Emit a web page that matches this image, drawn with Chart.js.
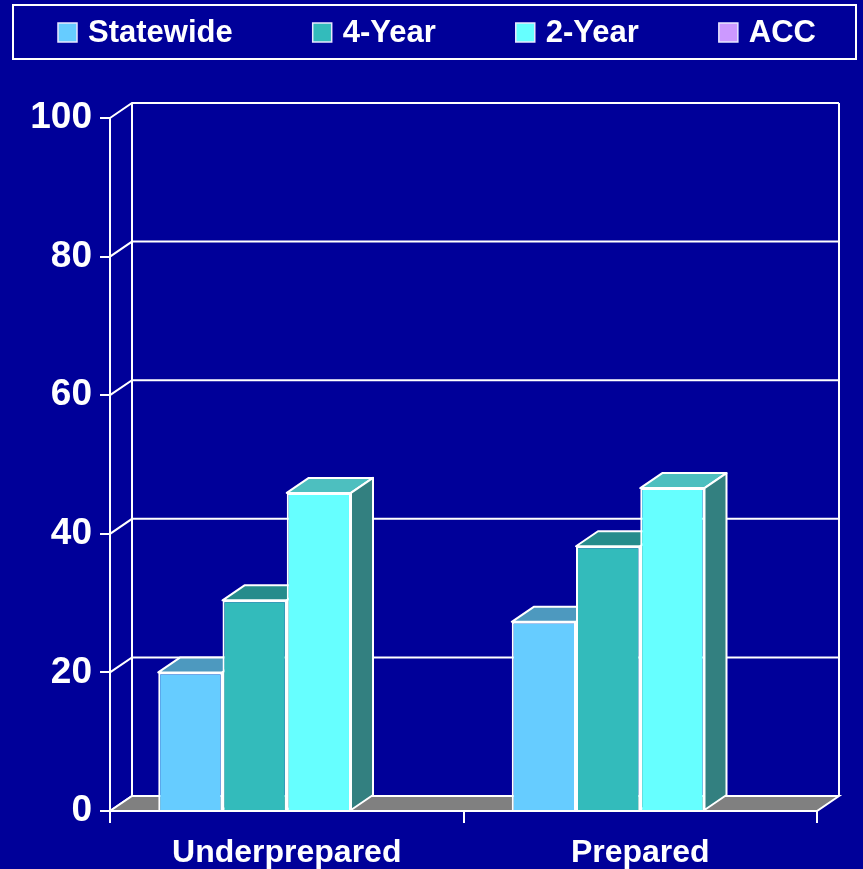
<!DOCTYPE html>
<html>
<head>
<meta charset="utf-8">
<title>Underprepared / Prepared</title>
<script src="https://cdn.jsdelivr.net/npm/chart.js@4.4.1/dist/chart.umd.min.js"></script>
<style>
  html, body { margin: 0; padding: 0; background: #000099; }
  .chart-box { width: 863px; height: 869px; position: relative; }
</style>
</head>
<body>
<div class="chart-box"><canvas id="chart"></canvas></div>
<script>
/* Data */

const categories = ['Underprepared', 'Prepared']
const seriesNames = ['Statewide', '4-Year', '2-Year', 'ACC']
const statewide = [20, 27.3]
const fourYear = [30.4, 38.2]
const twoYear = [45.9, 46.6]
const acc = [null, null]
const yTicks = [0, 20, 40, 60, 80, 100]

/* Look */

const colors = ['#66CCFF', '#33BBBB', '#66FFFF', '#CC99FF']
const depthX = 22
const depthY = 15
const fontFamily = '"Liberation Sans", Arial, Helvetica, sans-serif'

Chart.defaults.font.family = fontFamily
Chart.defaults.font.weight = 'bold'
Chart.defaults.color = '#ffffff'

function shade(hex, f) {
  const n = parseInt(hex.slice(1), 16)
  const r = Math.round(((n >> 16) & 255) * f)
  const g = Math.round(((n >> 8) & 255) * f)
  const b = Math.round((n & 255) * f)
  return 'rgb(' + r + ',' + g + ',' + b + ')'
}

function poly(ctx, pts, fill) {
  ctx.beginPath()
  ctx.moveTo(pts[0][0], pts[0][1])
  for (let i = 1; i < pts.length; i++) ctx.lineTo(pts[i][0], pts[i][1])
  ctx.closePath()
  if (fill) {
    ctx.fillStyle = fill
    ctx.fill()
  }
  ctx.stroke()
}

/* back wall, side lines and grey floor */
const wall = {
  id: 'wall',
  beforeDraw(chart) {
    const { ctx, chartArea: a, scales: { y } } = chart
    ctx.save()
    ctx.strokeStyle = '#ffffff'
    ctx.lineWidth = 2
    y.ticks.forEach(t => {
      const py = y.getPixelForValue(t.value)
      ctx.beginPath()
      ctx.moveTo(a.left, py)
      ctx.lineTo(a.left + depthX, py - depthY)
      ctx.lineTo(a.right + depthX, py - depthY)
      ctx.stroke()
    })
    ctx.beginPath()
    ctx.moveTo(a.left + depthX, a.top - depthY)
    ctx.lineTo(a.left + depthX, a.bottom - depthY)
    ctx.moveTo(a.right + depthX, a.top - depthY)
    ctx.lineTo(a.right + depthX, a.bottom - depthY)
    ctx.stroke()
    poly(ctx, [
      [a.left, a.bottom], [a.right, a.bottom],
      [a.right + depthX, a.bottom - depthY], [a.left + depthX, a.bottom - depthY]
    ], '#808080')
    ctx.restore()
  }
}

/* top and side faces of the bars, drawn before all front faces */
const bars3d = {
  id: 'bars3d',
  beforeDatasetsDraw(chart) {
    const { ctx } = chart
    ctx.save()
    ctx.strokeStyle = '#ffffff'
    ctx.lineWidth = 2
    ctx.lineJoin = 'round'
    chart.data.datasets.forEach((ds, d) => {
      const meta = chart.getDatasetMeta(d)
      meta.data.forEach((bar, i) => {
        if (ds.data[i] == null) return
        const p = bar.getProps(['x', 'y', 'base', 'width'], true)
        const l = p.x - p.width / 2
        const r = p.x + p.width / 2
        poly(ctx, [[l, p.y], [r, p.y], [r + depthX, p.y - depthY], [l + depthX, p.y - depthY]], shade(ds.backgroundColor, 0.75))
        poly(ctx, [[r, p.y], [r + depthX, p.y - depthY], [r + depthX, p.base - depthY], [r, p.base]], shade(ds.backgroundColor, 0.5))
      })
    })
    ctx.restore()
  }
}

/* framed legend along the top */
const legendBox = {
  id: 'legendBox',
  afterDraw(chart) {
    const { ctx } = chart
    const box = 19
    const boxGap = 11
    const gap = 80
    ctx.save()
    ctx.strokeStyle = '#ffffff'
    ctx.lineWidth = 2
    ctx.strokeRect(13, 5, 843, 54)
    ctx.font = 'bold 31px ' + fontFamily
    ctx.textBaseline = 'middle'
    const items = chart.data.datasets.map(ds => ({
      text: ds.label,
      color: ds.backgroundColor,
      w: ctx.measureText(ds.label).width
    }))
    const total = items.reduce((s, it) => s + box + boxGap + it.w, 0) + gap * (items.length - 1)
    let x = 437 - total / 2
    items.forEach(it => {
      ctx.fillStyle = it.color
      ctx.fillRect(x, 23, box, box)
      ctx.strokeStyle = '#e8e8ff'
      ctx.lineWidth = 1.5
      ctx.strokeRect(x, 23, box, box)
      ctx.fillStyle = '#ffffff'
      ctx.fillText(it.text, x + box + boxGap, 33)
      x += box + boxGap + it.w + gap
    })
    ctx.restore()
  }
}

const series = [statewide, fourYear, twoYear, acc]

const ctx = document.getElementById('chart').getContext('2d')
const myChart = new Chart(ctx, {
  type: 'bar',
  data: {
    labels: categories,
    datasets: series.map((values, i) => ({
      label: seriesNames[i],
      data: values,
      backgroundColor: colors[i],
      borderColor: '#ffffff',
      borderWidth: 2,
      categoryPercentage: 0.727,
      barPercentage: 1
    }))
  },
  options: {
    responsive: true,
    maintainAspectRatio: false,
    animation: false,
    layout: {
      padding: { top: 118, right: 46, bottom: 0, left: 0 }
    },
    plugins: {
      legend: { display: false },
      tooltip: { enabled: false }
    },
    scales: {
      x: {
        grid: {
          offset: true,
          drawOnChartArea: false,
          color: '#ffffff',
          lineWidth: 2,
          tickLength: 12
        },
        border: { color: '#ffffff', width: 2 },
        ticks: {
          color: '#ffffff',
          font: { size: 32, weight: 'bold' },
          padding: 11
        },
        afterFit: scale => { scale.height = 58 }
      },
      y: {
        min: yTicks[0],
        max: yTicks[yTicks.length - 1],
        afterBuildTicks: scale => { scale.ticks = yTicks.map(v => ({ value: v })) },
        grid: {
          drawOnChartArea: false,
          color: '#ffffff',
          lineWidth: 2,
          tickLength: 10
        },
        border: { color: '#ffffff', width: 2 },
        ticks: {
          color: '#ffffff',
          font: { size: 37, weight: 'bold' },
          padding: 8
        },
        afterFit: scale => { scale.width = 110 }
      }
    }
  },
  plugins: [wall, bars3d, legendBox]
})
</script>
</body>
</html>
